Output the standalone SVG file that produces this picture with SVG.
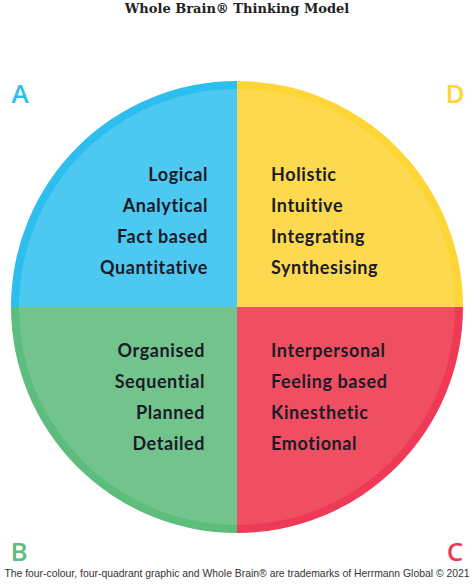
<svg xmlns="http://www.w3.org/2000/svg" width="474" height="586" viewBox="0 0 474 586">
<style>
.t{font-family:Lato,"Noto Sans",sans-serif;font-weight:700;font-size:18px;fill:#1b1b28;letter-spacing:0.6px}
.l{text-anchor:end}
.q{font-family:"Open Sans","Noto Sans",sans-serif;font-weight:600;font-size:26px}
</style>
<rect width="474" height="586" fill="#fff"/>
<text x="237" y="13" text-anchor="middle" font-family="'DejaVu Serif',serif" font-weight="700" font-size="13" fill="#222">Whole Brain® Thinking Model</text>
<g id="quadA">
<path d="M237,307 L11,307 A226,226 0 0 1 237,81 Z" fill="#2bbeee"/>
<path d="M237,307 L19,307 A218,218 0 0 1 237,89 Z" fill="#4dc8f1"/>
<text class="q" x="20" y="103" text-anchor="middle" fill="#2bbeee">A</text>
<text class="t l" x="208" y="181">Logical</text>
<text class="t l" x="208" y="212">Analytical</text>
<text class="t l" x="208" y="243">Fact based</text>
<text class="t l" x="208" y="274">Quantitative</text>
</g>
<g id="quadD">
<path d="M237,307 L237,81 A226,226 0 0 1 463,307 Z" fill="#fdd534"/>
<path d="M237,307 L237,89 A218,218 0 0 1 455,307 Z" fill="#fcd94f"/>
<text class="q" x="455" y="103" text-anchor="middle" fill="#fdd534">D</text>
<text class="t" x="271" y="181">Holistic</text>
<text class="t" x="271" y="212">Intuitive</text>
<text class="t" x="271" y="243">Integrating</text>
<text class="t" x="271" y="274">Synthesising</text>
</g>
<g id="quadB">
<path d="M237,307 L237,533 A226,226 0 0 1 11,307 Z" fill="#5dbd7c"/>
<path d="M237,307 L237,525 A218,218 0 0 1 19,307 Z" fill="#72c48c"/>
<text class="q" x="19" y="561" text-anchor="middle" fill="#5dbd7c">B</text>
<text class="t l" x="205" y="357">Organised</text>
<text class="t l" x="205" y="388">Sequential</text>
<text class="t l" x="205" y="419">Planned</text>
<text class="t l" x="205" y="450">Detailed</text>
</g>
<g id="quadC">
<path d="M237,307 L463,307 A226,226 0 0 1 237,533 Z" fill="#ee3a56"/>
<path d="M237,307 L455,307 A218,218 0 0 1 237,525 Z" fill="#f04f61"/>
<text class="q" x="455" y="561" text-anchor="middle" fill="#ee3a56">C</text>
<text class="t" x="271" y="357">Interpersonal</text>
<text class="t" x="271" y="388">Feeling based</text>
<text class="t" x="271" y="419">Kinesthetic</text>
<text class="t" x="271" y="450">Emotional</text>
</g>
<text x="237" y="577" text-anchor="middle" font-family="'Liberation Sans',Arial,sans-serif" font-size="10.4" fill="#333">The four-colour, four-quadrant graphic and Whole Brain® are trademarks of Herrmann Global © 2021</text>
</svg>
